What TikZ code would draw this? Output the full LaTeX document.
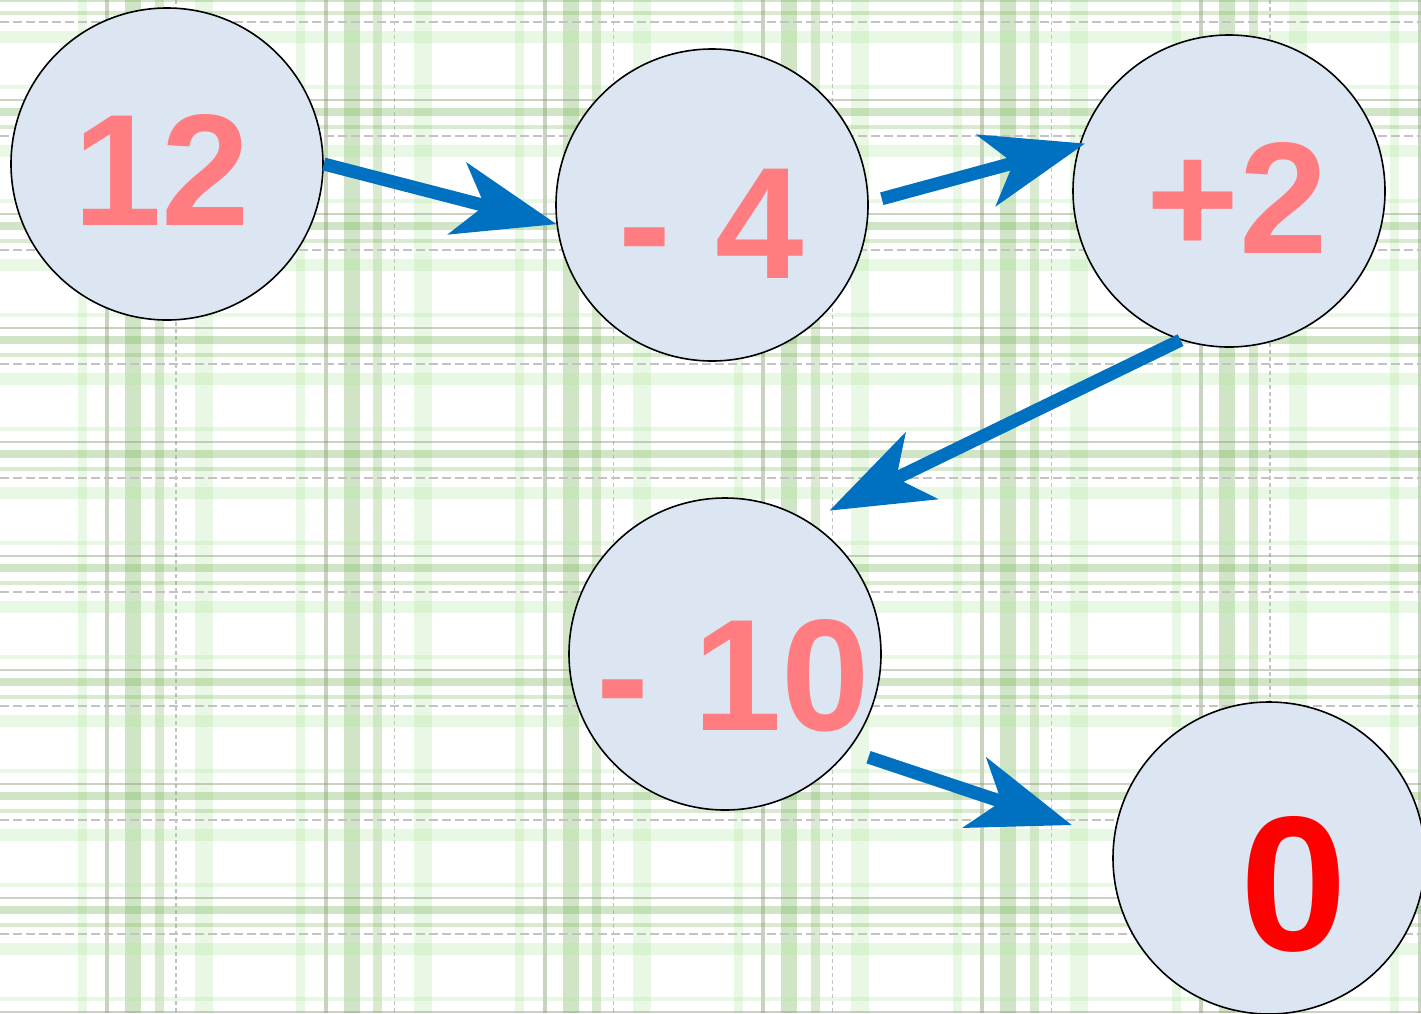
\documentclass[tikz,border=0pt]{standalone}
\usepackage{fontspec}
\setmainfont{Liberation Sans}
\usetikzlibrary{arrows.meta}
\definecolor{circfill}{RGB}{220,230,242}
\definecolor{numcol}{RGB}{255,124,128}
\definecolor{arrcol}{RGB}{0,112,192}
\definecolor{plaidgreen}{RGB}{120,180,90}
\definecolor{plaidlight}{RGB}{170,230,150}
\definecolor{plaidgray}{RGB}{130,150,110}
\definecolor{plaiddash}{RGB}{195,195,195}
\tikzset{
  pthick/.style={fill=plaidgreen, fill opacity=0.34},
  pmed/.style={fill=plaidgreen, fill opacity=0.28},
  plight/.style={fill=plaidlight, fill opacity=0.25},
  pgray/.style={fill=plaidgray, fill opacity=0.42},
  pdash/.style={draw=plaiddash, line width=1.3pt},
  numnode/.style={circle, draw=black, line width=1.6pt, fill=circfill, minimum size=312pt, inner sep=0pt},
  numtext/.style={anchor=base, inner sep=0pt, text=numcol, font=\fontsize{159}{159}\selectfont\bfseries},
  arr/.style={draw=arrcol, line width=13pt, -{Stealth[length=103pt, width=75pt, inset=29pt, line width=0pt]}}
}
\begin{document}
\begin{tikzpicture}[x=1pt, y=-1pt]
\useasboundingbox (0,0) rectangle (1421,1013);
\fill[white] (0,0) rectangle (1421,1013);
\begin{scope}
\clip (0,0) rectangle (1421,1013);
% vertical stripes
\foreach \k in {-1,...,6} {
  \pgfmathsetmacro\g{107+218.8*\k}
  \fill[plight] ({\g-25-4.5},0) rectangle ({\g-25+4.5},1013);
  \fill[pgray]  ({\g-2},0) rectangle ({\g+2},1013);
  \fill[pthick] ({\g+26-8},0) rectangle ({\g+26+8},1013);
  \fill[pmed]   ({\g+52-4.5},0) rectangle ({\g+52+4.5},1013);
  \fill[plight] ({\g+97-9},0) rectangle ({\g+97+9},1013);
  \draw[pdash, dash pattern=on 4pt off 3pt] ({\g+69},0) -- ({\g+69},1013);
}
% horizontal stripes
\foreach \k in {-1,...,8} {
  \pgfmathsetmacro\g{100+114*\k}
  \fill[plight] (0,{\g-13-2}) rectangle (1421,{\g-13+2});
  \fill[pgray]  (0,{\g-1.3}) rectangle (1421,{\g+1.3});
  \fill[pthick] (0,{\g+12-4}) rectangle (1421,{\g+12+4});
  \fill[pmed]   (0,{\g+27-2}) rectangle (1421,{\g+27+2});
  \fill[plight] (0,{\g+51-6}) rectangle (1421,{\g+51+6});
  \draw[pdash, dash pattern=on 9pt off 4pt] (0,{\g+36}) -- (1421,{\g+36});
}
\end{scope}
% circles
\node[numnode] (c1) at (167,164) {};
\node[numnode] (c2) at (712,205) {};
\node[numnode] (c3) at (1229,191) {};
\node[numnode] (c4) at (725,654) {};
\node[numnode] (c5) at (1269,858) {};
% numbers
\node[numtext] (t1) at (162,225) {12};
\node[numtext] (t2) at (711,278) {- 4};
\node[numtext] (t3) at (1237,253) {+2};
\node[numtext] (t4) at (733,730) {- 10};
\node[numtext, text=red, font=\fontsize{192}{192}\selectfont\bfseries] (t5) at (1294,950) {0};
% arrows
\draw[arr] (c1.0) -- (c2.187);
\draw[arr, shorten <=13.5pt, shorten >=-6pt] (c2.1) -- (c3.163);
\draw[arr, shorten >=24pt] (c3.252) -- (c4.58);
\draw[arr, shorten <=21pt, shorten >=44pt] (c4.322) -- (c5.173);
\end{tikzpicture}
\end{document}
